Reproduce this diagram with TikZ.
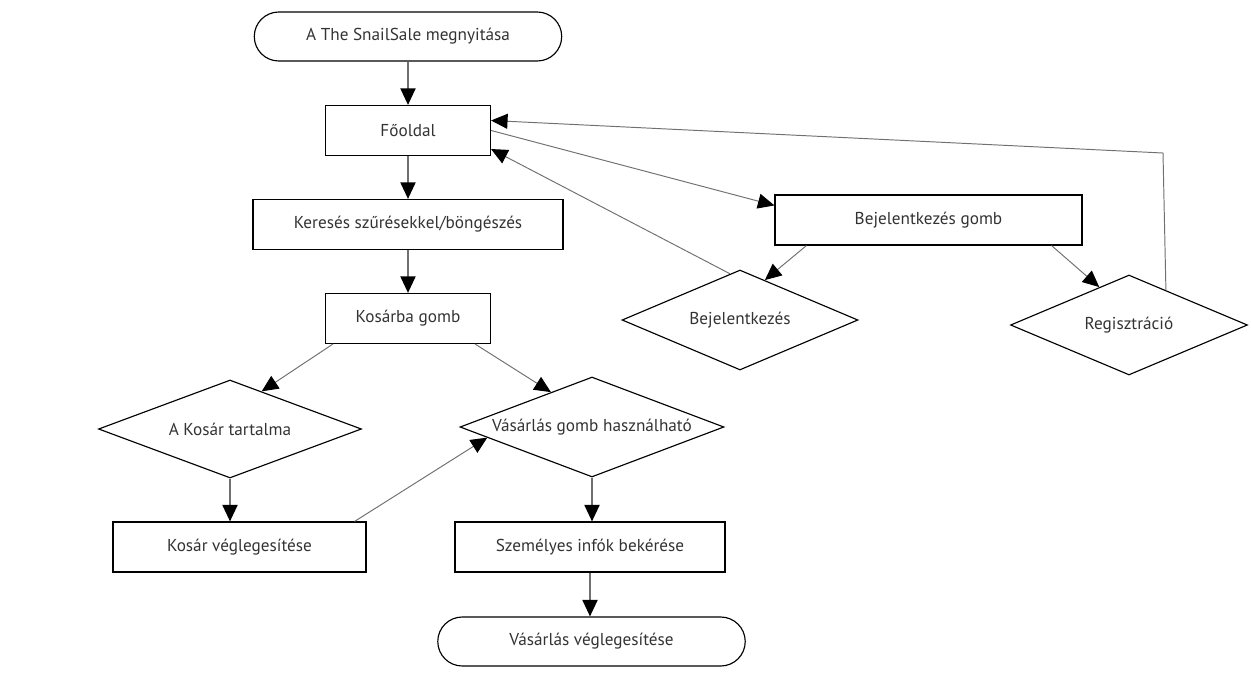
\documentclass[tikz,border=0pt]{standalone}
\usepackage{fontspec}
\setmainfont{PT Sans}
\usepackage{xcolor}
\usetikzlibrary{arrows.meta,shapes.geometric,calc}
\definecolor{txtgray}{HTML}{333333}
\definecolor{linegray}{HTML}{707070}

\begin{document}
\begin{tikzpicture}[x=0.02cm, y=0.02cm, node distance=1.88cm,
    every node/.style={font=\fontsize{9.8}{11}\selectfont, text=txtgray},
    term/.style={rectangle, draw, line width=0.65pt, rounded corners=0.49cm, minimum width=6.15cm, minimum height=0.98cm},
    box/.style={rectangle, draw, line width=0.65pt, minimum height=1cm},
    dec/.style={diamond, draw, line width=0.65pt, inner sep=0pt},
    flow/.style={draw=linegray, line width=1.1pt, -{Triangle[length=0.33cm, width=0.3cm, color=black]}},
    link/.style={draw=linegray, line width=0.55pt, -{Triangle[length=0.33cm, width=0.3cm, color=black]}}]
    \useasboundingbox (0,0) rectangle (1251,-673);

    % Define nodes
    \node [term] (start) at (408,-36.5) {A The SnailSale megnyitása};
    \node [box, minimum width=3.3cm, below of=start] (fooldal) {Főoldal};
    \node [box, minimum width=6.2cm, below of=fooldal] (kereses) {Keresés szűrésekkel/böngészés};
    \node [box, minimum width=3.3cm, below of=kereses] (kosarba) {Kosárba gomb};
    \node [dec, minimum width=5.26cm, minimum height=1.96cm] (tartalom) at (230,-429) {\makebox[0pt]{A Kosár tartalma}};
    \node [dec, minimum width=5.28cm, minimum height=2cm] (vasar) at (592,-427) {\makebox[0pt]{Vásárlás gomb használható}};
    \node [box, minimum width=5.06cm] (kosveg) at (239.5,-547) {Kosár véglegesítése};
    \node [box, minimum width=5.4cm] (szemely) at (590,-547) {Személyes infók bekérése};
    \node [term] (vegleg) at (591.5,-641.5) {Vásárlás véglegesítése};
    \node [box, minimum width=6.14cm] (bejgomb) at (928.5,-220) {Bejelentkezés gomb};
    \node [dec, minimum width=4.72cm, minimum height=2cm] (bejel) at (740,-320) {\makebox[0pt]{Bejelentkezés}};
    \node [dec, minimum width=4.74cm, minimum height=2cm] (regisz) at (1129,-325) {\makebox[0pt]{Regisztráció}};
    \coordinate (regfent) at (1163,-153);

    % Draw edges
    \draw [flow] (start) -- (fooldal);
    \draw [flow] (fooldal) -- (kereses);
    \draw [flow] (kereses) -- (kosarba);
    \draw [link] ([xshift=0.16cm]kosarba.south west) -- ($(tartalom.north)!0.24!(tartalom.east)$);
    \draw [link] ([xshift=-0.32cm]kosarba.south east) -- ($(vasar.north)!0.31!(vasar.west)$);
    \draw [flow] (tartalom.south) -- (tartalom.south |- kosveg.north);
    \draw [link] ([xshift=-0.24cm]kosveg.north east) -- ($(vasar.west)!0.21!(vasar.south)$);
    \draw [flow] (vasar.south) -- (vasar.south |- szemely.north);
    \draw [flow] (szemely.south) -- (szemely.south |- vegleg.north);
    \draw [link] (fooldal.east) -- ([yshift=-0.22cm]bejgomb.north west);
    \draw [link] ([xshift=0.64cm]bejgomb.south west) -- ($(bejel.north)!0.21!(bejel.east)$);
    \draw [link] ($(bejel.north)!0.085!(bejel.west)$) -- ([yshift=0.14cm]fooldal.south east);
    \draw [link] ([xshift=-0.62cm]bejgomb.south east) -- ($(regisz.north)!0.25!(regisz.west)$);
    \draw [link] ($(regisz.north)!0.31!(regisz.east)$) -- (regfent) -- ([yshift=0.2cm]fooldal.east);
\end{tikzpicture}
\end{document}
